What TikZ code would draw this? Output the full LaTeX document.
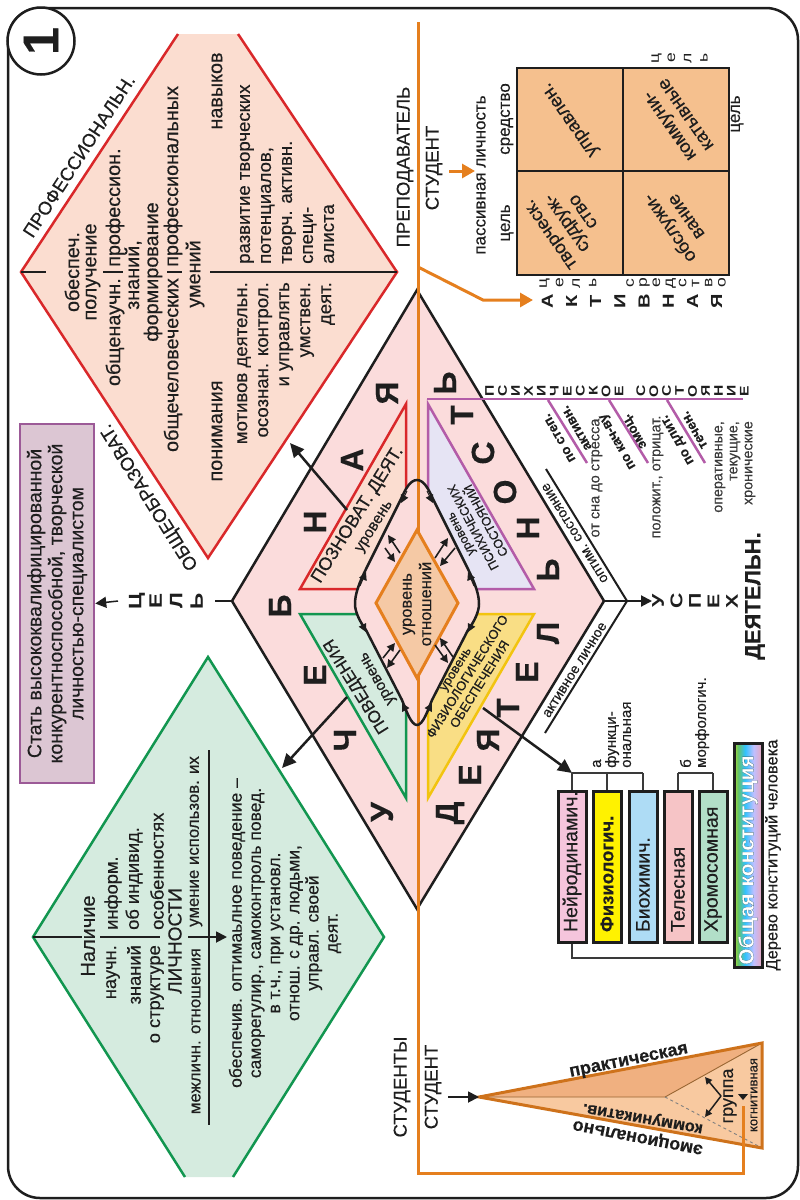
\documentclass[tikz,border=0pt]{standalone}
\usepackage{fontspec}
\setmainfont[RawFeature={embolden=0.35}]{Liberation Sans}
\newfontfamily\widefont[FakeStretch=1.25]{Liberation Sans}
\usetikzlibrary{arrows.meta,calc}
\newcommand\fz[2]{\fontsize{#1pt}{#2pt}\selectfont\lineskiplimit=-100pt\relax}
\definecolor{pinkd}{HTML}{FBDCDC}
\definecolor{redf}{HTML}{FBDDD0}
\definecolor{reds}{HTML}{D9282A}
\definecolor{greenf}{HTML}{D5EBDF}
\definecolor{greens}{HTML}{129650}
\definecolor{orangel}{HTML}{E57F1E}
\definecolor{quadf}{HTML}{F5C08E}
\definecolor{purples}{HTML}{B35CA8}
\definecolor{purplef}{HTML}{E6E4F4}
\definecolor{yellowf}{HTML}{F9DE85}
\definecolor{yellows}{HTML}{F2C40F}
\definecolor{ink}{HTML}{1E1E1E}
\definecolor{gray1}{HTML}{3A3A3A}
\definecolor{goalf}{HTML}{DCC6D3}
\definecolor{goals}{HTML}{9C5A97}
\definecolor{odiam}{HTML}{F5C9A5}
\definecolor{pyrl}{HTML}{F8C9A0}
\definecolor{pyrd}{HTML}{F0B080}
\pgfdeclarehorizontalshading{rainbowh}{100bp}{
  color(0bp)=(orange!90!red);color(8bp)=(orange);color(18bp)=(yellow);
  color(32bp)=(green!60!black!60);color(45bp)=(cyan!70!blue!80);color(60bp)=(blue!25!white);
  color(75bp)=(purple!35!white);color(100bp)=(purple!35!white)}
\tikzset{
  txt/.style={rotate=90,inner sep=0pt,text=ink},
  red20/.style={txt,font=\fz{19.8}{21}},
  red18/.style={txt,font=\fz{18.6}{21}},
  grn18/.style={txt,font=\fz{18.3}{19}},
  big/.style={txt,font=\fz{32}{32}\bfseries},
  hd/.style={txt,font=\fz{18.5}{20}},
  stack/.style={txt,align=center},
  blk/.style={draw=ink,line width=2.5pt},
  thin rule/.style={draw=ink,line width=1.8pt},
  barrow/.style={draw=ink,line width=2.5pt,-{Triangle[length=14pt,width=13pt]}},
  sarrow/.style={draw=ink,line width=1.5pt,-{Triangle[length=7pt,width=7pt]}},
  dbl/.style={draw=ink,line width=1.6pt,-{Triangle[length=8pt,width=8pt]}},
  cbox/.style={draw=ink,line width=3pt,rotate=90,minimum height=28pt,text width=131pt,inner xsep=10pt,inner ysep=0pt,align=left,font=\fz{19.5}{20},text=ink},
  brk/.style={draw=gray1,line width=1.4pt},
  gtxt/.style={txt,font=\fz{14.5}{15},text=gray1},
  qtxt/.style={inner sep=0pt,rotate=125,font=\fz{18.5}{20},text=ink,align=center},
  btxt/.style={inner sep=0pt,rotate=120,font=\fz{13.5}{20}\bfseries,text=ink,align=center},
  orule/.style={orangel,line width=3pt},
}
\begin{document}
\begin{tikzpicture}[x=1pt,y=-1pt]
\useasboundingbox (0,0) rectangle (800,1200);
% frame
\draw[ink,line width=2.5pt,rounded corners=32pt] (8,8) rectangle (798,1198);
\node[circle,draw=ink,line width=2.5pt,fill=white,minimum size=67pt,inner sep=0pt,rotate=90,font=\fz{50}{50}\bfseries,text=ink] (num) at (41,41) {1};

% red diamond
\coordinate (rl) at (21,272); \coordinate (rr) at (397,272); \coordinate (rb) at (208,558);
\coordinate (rt1) at (178,34); \coordinate (rt2) at (238,34);
\fill[redf] (rt1)--(rl)--(rb)--(rr)--(rt2)--cycle;
\draw[reds,line width=2.5pt,line join=miter] (rt1)--(rl)--(rb)--(rr)--(rt2);
\draw[thin rule] (rl)--(46,272) (103,272)--(123,272) (167,272)--(182,272) (210,272)--(rr);
\node[red20] (r1) at (72,272) {обеспеч.};
\node[red20] (r2) at (93,272) {получение};
\node[red20,anchor=east] (r3a) at (115,278) {общенаучн.};
\node[red20,anchor=west] (r3b) at (115,267) {профессион.};
\node[red20] (r4) at (133,275) {знаний,};
\node[red20] (r5) at (153,272) {формирование};
\node[red20,anchor=east] (r6a) at (173,278) {общечеловеческих};
\node[red20,anchor=west] (r6b) at (173,267) {профессиональных};
\node[red20] (r7) at (195,274) {умений};
\node[red20] (r8) at (217,91) {навыков};
\node[red20] (r9) at (217,431) {понимания};
\node[red18,anchor=west,align=left] (r10) at (287,264) {развитие творческих\\потенциалов,\\творч. активн.\\специ-\\алиста};
\node[red18,anchor=east,align=right] (r11) at (286,282) {мотивов деятельн.\\осознан. контрол.\\и управлять\\умствен.\\деят.};
\node[hd,rotate=-33,anchor=center] (prof) at (79,156) {ПРОФЕССИОНАЛЬН.};
\node[hd,rotate=32,anchor=center] (obsch) at (150,497) {ОБЩЕОБРАЗОВАТ.};

% green diamond
\coordinate (gl) at (33,937); \coordinate (gr) at (384,937); \coordinate (gt) at (208,657);
\coordinate (gb1) at (185,1177); \coordinate (gb2) at (233,1177);
\fill[greenf] (gt)--(gl)--(gb1)--(gb2)--(gr)--cycle;
\draw[greens,line width=2.5pt] (gb1)--(gl)--(gt)--(gr)--(gb2);
\draw[thin rule] (gl)--(82,937) (100,937)--(160,937);
\coordinate (gv1) at (209,750); \coordinate (gv2) at (209,1125);
\draw[thin rule] (gv1)--(gv2);
\coordinate (ga1) at (188,937); \coordinate (ga2) at (227,937);
\draw[draw=ink,line width=1.8pt,-{Triangle[length=11pt,width=11pt]}] (ga1)--(ga2);
\node[txt,font=\fz{20}{20}] (g1) at (88,936) {Наличие};
\node[grn18,anchor=east] (g2a) at (113,945) {научн.};
\node[grn18,anchor=west] (g2b) at (113,930) {информ.};
\node[grn18,anchor=east] (g3a) at (134,945) {знаний};
\node[grn18,anchor=west] (g3b) at (134,930) {об индивид.};
\node[grn18,anchor=east] (g4a) at (157,945) {о структуре};
\node[grn18,anchor=west] (g4b) at (157,930) {особенностях};
\node[txt,font=\fz{19}{20}] (g5) at (175,941) {ЛИЧНОСТИ};
\node[txt,font=\fz{16.8}{18},anchor=east] (g6a) at (196,948) {межличн. отношения};
\node[txt,font=\fz{16.8}{18},anchor=west] (g6b) at (196,927) {умение использов. их};
\node[txt,font=\fz{17.5}{19.2},align=center] (g7) at (285,933) {обеспечив. оптимаьлное поведение –\\саморегулир., самоконтроль повед.\\в т.ч., при установл.\\отнош. с др. людьми,\\управл. своей\\деят.};

% purple box
\node[rotate=90,draw=goals,line width=2.5pt,fill=goalf,minimum width=359pt,minimum height=74pt,align=center,text=ink,font=\fz{19.5}{21}] (goal) at (57,603.5) {Стать высококвалифицированной\\конкурентноспособной, творческой\\личностью-специалистом};

% central diamond
\coordinate (dt) at (417,290); \coordinate (dl) at (232,601); \coordinate (dr) at (604,601); \coordinate (db) at (417,909);
\fill[pinkd] (dt)--(dl)--(db)--(dr)--cycle;
% inner triangles
\filldraw[fill=redf,draw=reds,line width=2.5pt] (406,404)--(300,589)--(406,589)--cycle;
\filldraw[fill=purplef,draw=purples,line width=2.5pt] (428,404)--(534,589)--(428,589)--cycle;
\filldraw[fill=greenf,draw=greens,line width=2.5pt] (300,614)--(406,614)--(406,798)--cycle;
\filldraw[fill=yellowf,draw=yellows,line width=2.5pt] (534,614)--(428,614)--(428,798)--cycle;
\draw[ink,line width=2.5pt] (dt)--(dl)--(db)--(dr)--cycle;
% orange axis
\coordinate (ot) at (418,22); \coordinate (oc) at (418,1173); \coordinate (oe) at (743,1173); \coordinate (oe2) at (743,1106);
% rounded inner form
\path[fill=pinkd] (417,480) .. controls (410,480) and (405,490) .. (402,497) -- (367,567) .. controls (358,585) and (355,595) .. (355,604) .. controls (355,612) and (360,622) .. (366,630) -- (402,700) .. controls (406,710) and (411,725) .. (417,725) .. controls (423,725) and (428,710) .. (432,700) -- (468,630) .. controls (474,622) and (479,612) .. (479,604) .. controls (479,595) and (476,585) .. (467,567) -- (432,497) .. controls (429,490) and (424,480) .. (417,480) -- cycle;
\draw[orule,line join=miter] (ot)--(oc)--(oe)--(oe2);
\draw[ink,line width=2.5pt] (417,480) .. controls (410,480) and (405,490) .. (402,497) -- (367,567) .. controls (358,585) and (355,595) .. (355,604) .. controls (355,612) and (360,622) .. (366,630) -- (402,700) .. controls (406,710) and (411,725) .. (417,725) .. controls (423,725) and (428,710) .. (432,700) -- (468,630) .. controls (474,622) and (479,612) .. (479,604) .. controls (479,595) and (476,585) .. (467,567) -- (432,497) .. controls (429,490) and (424,480) .. (417,480) -- cycle;
\foreach \a/\b/\c/\d in {407/491/401/503,427/491/433/503,360/586/366/572,474/586/468/572,360/620/366/632,474/620/468/632,409/716/402/703,425/716/432/703}
  \draw[ink,-{Triangle[length=8pt,width=8pt]},line width=1pt] (\a,\b)--(\c,\d);
% orange diamond
\filldraw[fill=odiam,draw=orangel,line width=3pt,line join=miter] (417,530)--(376,603)--(417,678)--(458,603)--cycle;
\node[txt,font=\fz{16.5}{19.5},align=center] (rel) at (417,604) {уровень\\отношений};
% double arrows
\foreach \a/\b/\c/\d in {400/553/388/535,385/548/395/562,435/558/448/538,455/548/440/566,383/658/395/643,400/650/387/668,453/657/440/638,435/645/448/663}
  \draw[dbl] (\a,\b)--(\c,\d);
% labels in triangles
\node[inner sep=0pt,rotate=58,font=\fz{18}{20},text=ink] (t1) at (358,515) {ПОЗНОВАТ. ДЕЯТ.};
\node[inner sep=0pt,rotate=58,font=\fz{15.5}{18},text=ink] (t2) at (375,527) {уровень};
\node[inner sep=0pt,rotate=118,font=\fz{12.5}{14.5},text=ink,align=center] (t3) at (474,527) {уровень\\ПСИХИЧЕСКИХ\\СОСТОЯНИЙ};
\node[inner sep=0pt,rotate=122,font=\fz{17}{20},text=ink] (t4) at (357,686) {ПОВЕДЕНИЯ};
\node[inner sep=0pt,rotate=120,font=\fz{15.5}{18},text=ink] (t5) at (378,678) {уровень};
\node[inner sep=0pt,rotate=58,font=\fz{13}{14.5},text=ink,align=center] (t6) at (468,677) {уровень\\ФИЗИОЛОГИЧЕСКОГО\\ОБЕСПЕЧЕНИЯ};
% big letters
\foreach \i/\x/\y/\l in {1/382/812/У,2/345/740/Ч,3/315/675/Е,4/280/606/Б,5/315/522/Н,6/352/460/А,7/387/393/Я,
  8/450/813/Д,9/470/775/Е,10/488/740/Я,11/508/708/Т,12/527/672/Е,13/548/633/Л,14/548/570/Ь,15/528/528/Н,16/505/492/О,17/483/453/С,18/462/415/Т,19/445/383/Ь}
  \node[big] (L\i) at (\x,\y) {\l};
% edge rules
\coordinate (e1) at (546,469); \coordinate (e2) at (627,601); \coordinate (e3) at (545,733);
\draw[ink,line width=2pt] (e1)--(e2)--(e3);
\node[inner sep=0pt,rotate=122,font=\fz{14}{15},text=ink] (opt) at (575,533) {оптим. состояние};
\node[inner sep=0pt,rotate=58,font=\fz{14}{15},text=ink] (act) at (575,670) {активное личное};
% success arrow
\coordinate (su) at (652,601);
\draw[ink,line width=2pt,-{Triangle[length=11pt,width=11pt]}] (dr)--(su);
\node[stack,font=\widefont\fz{17}{18.5}\bfseries] (usp) at (695,601) {У\\С\\П\\Е\\Х};
\node[txt,font=\fz{22}{24}\bfseries] (deyat) at (755,596) {ДЕЯТЕЛЬН.};
% goal arrow
\node[stack,font=\widefont\fz{18}{20.5}\bfseries] (tsel) at (166,601) {Ц\\Е\\Л\\Ь};
\draw[ink,line width=1.6pt] (dl)--(215,601);
\coordinate (g0) at (118,601);
\draw[sarrow,-{Triangle[length=11pt,width=11pt]}] (g0)--(goal.south);
% arrows to diamonds
\coordinate (a1) at (347,510); \coordinate (a1t) at (290,443);
\coordinate (a2) at (347,697); \coordinate (a2t) at (282,768);
\coordinate (a3) at (483,708); \coordinate (a3t) at (572,773);
\draw[barrow] (a1)--(a1t);
\draw[barrow] (a2)--(a2t);
\draw[barrow] (a3)--(a3t);
% teacher quadrant
\node[hd] (prep) at (405,167) {ПРЕПОДАВАТЕЛЬ};
\node[hd] (stud1) at (434,168) {СТУДЕНТ};
\node[txt,font=\fz{17}{19}] (pass) at (481,175) {пассивная личность};
\node[txt,font=\fz{17}{19}] (sr1) at (507,119) {средство};
\node[txt,font=\fz{17}{19}] (ts1) at (507,223) {цель};
\node[txt,font=\fz{17}{19}] (ts2) at (737,114) {цель};
\coordinate (s1) at (449,171); \coordinate (s2) at (475,171);
\draw[orule,-{Triangle[length=13pt,width=14pt]}] (s1)--(s2);
\coordinate (br0) at (418,267); \coordinate (br1) at (483,300); \coordinate (br2) at (533,300);
\draw[orule,-{Triangle[length=13pt,width=14pt]}] (br0)--(br1)--(br2);
\draw[fill=quadf,draw=ink,line width=2.5pt] (517,68) rectangle (729,275);
\draw[ink,line width=2.5pt] (623,68)--(623,275) (517,171)--(729,171);
\node[qtxt] (q1) at (571,119) {управлен.};
\node[qtxt] (q2) at (678,120) {коммуни-\\катывные};
\node[qtxt] (q3) at (567,223) {творческ.\\судруж-\\ство};
\node[qtxt] (q4) at (677,223) {обслужи-\\вание};
\node[stack,font=\widefont\fz{14}{16.3}] (st1) at (679.5,58) {ц\\е\\л\\ь};
\node[stack,font=\widefont\fz{14}{16.5}] (st2) at (568,283) {ц\\е\\л\\ь};
\node[stack,font=\widefont\fz{14}{13.1}] (st3) at (676,283) {с\\р\\е\\д\\с\\т\\в\\о};
\node[stack,font=\widefont\fz{16}{24.2}\bfseries] (act2) at (632,301) {А\\К\\Т\\И\\В\\Н\\А\\Я};
% mental state line
\coordinate (p1) at (427,399); \coordinate (p2) at (743,399);
\draw[purples,line width=2.5pt] (p1)--(p2);
\node[stack,font=\widefont\fz{12.5}{12.95}\bfseries] (psy) at (617,391) {П\\С\\И\\Х\\И\\Ч\\Е\\С\\К\\О\\Е\\[8.7pt]С\\О\\С\\Т\\О\\Я\\Н\\И\\Е};
\draw[purples,line width=2.5pt] (548,400)--(587,463) (609,400)--(648,463) (667,400)--(705,463);
\node[btxt] (b1) at (568,433) {по степ.\\активн.};
\node[btxt] (b2) at (627,436) {по кач-ву\\эмоц.};
\node[btxt] (b3) at (686,435) {по длит.\\течен.};
\node[gtxt] (v1) at (597,478) {от сна до стресса};
\node[gtxt] (v2) at (658,477) {положит., отрицат.};
\node[gtxt,anchor=east,align=right,font=\fz{14.3}{15}] (v3) at (735,421) {оперативные,\\текущие,\\хронические};
% constitution boxes
\node[cbox,fill={rgb,255:red,245;green,197;blue,220}] (n1) at (572,866.5) {Нейродинамич.};
\node[cbox,fill=yellow,font=\fz{18.5}{20}\bfseries] (n2) at (607,866.5) {Физиологич.};
\node[cbox,fill={rgb,255:red,174;green,220;blue,245}] (n3) at (643,866.5) {Биохимич.};
\node[cbox,fill={rgb,255:red,246;green,196;blue,198}] (n4) at (678,866.5) {Телесная};
\node[cbox,fill={rgb,255:red,178;green,223;blue,200}] (n5) at (713,866.5) {Хромосомная};
\path[shading=rainbowh,draw=ink,line width=3pt] (734,743) rectangle (762,967);
\node[rotate=90,inner sep=0pt,font=\fz{21}{22}\bfseries,text=white,text width=212pt,align=center] (n6) at (748,860) {\special{pdf:code q 2 Tr 0.7 w 0.05 0.25 0.25 RG}Общая конституция\special{pdf:code Q}};
\coordinate (ab) at (572,773); \coordinate (ae) at (643,773); \coordinate (am) at (607,773);
\draw[brk] (ab)--(ae) (ab)--(n1.east) (am)--(n2.east) (ae)--(n3.east);
\coordinate (bb) at (678,773); \coordinate (be) at (713,773);
\draw[brk] (bb)--(be) (bb)--(n4.east) (be)--(n5.east);
\coordinate (cb) at (572,958);
\draw[brk] (n1.west)--(cb)--(734,958);
\node[txt,anchor=west,align=left,font=\fz{15}{15}] (fn) at (612,768) {а\\функци-\\ональная};
\node[txt,anchor=west,align=left,font=\fz{15}{15}] (mo) at (694.5,768) {б\\морфологич.};
\node[txt,font=\fz{16.5}{17}] (tree) at (773,855) {Дерево конституций человека};
% pyramid
\coordinate (ap) at (479,1097); \coordinate (tr) at (762,1043); \coordinate (brr) at (762,1148); \coordinate (in) at (665,1097);
\fill[pyrl] (ap)--(tr)--(brr)--cycle;
\fill[pyrd] (ap)--(tr)--(in)--cycle;
\draw[brown!80!black,line width=.9pt] (ap)--(in)--(tr);
\draw[gray,line width=.9pt,dashed] (in)--(brr);
\draw[orangel!90!black,line width=3pt,line join=miter] (ap)--(tr)--(brr)--cycle;
\coordinate (yy) at (721,1096);
\draw[sarrow] (yy)--(705,1077);
\draw[sarrow] (yy)--(705,1117);
\fill[ink] (738,1094)--(748,1094)--(743,1100)--cycle;
\draw[orule] (oe)--(oe2);
\node[inner sep=0pt,rotate=11.5,font=\fz{18}{20}\bfseries,text=ink] (pr) at (629,1062) {практическая};
\node[inner sep=0pt,rotate=170,font=\fz{16.5}{20}\bfseries,text=ink] (ko) at (643,1117) {коммуникатив.};
\node[inner sep=0pt,rotate=169,font=\fz{18}{20}\bfseries,text=ink] (em) at (638,1136) {эмоционально};
\node[txt,font=\fz{18}{20}] (gr1) at (730,1096) {группа};
\node[txt,font=\fz{13}{15}] (kg) at (754,1095) {когнитивная};
\node[hd] (sty) at (402,1087) {СТУДЕНТЫ};
\node[hd] (st5) at (433,1087) {СТУДЕНТ};
\coordinate (sa) at (448,1097);
\draw[draw=ink,line width=1.8pt,-{Triangle[length=11pt,width=11pt]}] (sa)--(ap);
\end{tikzpicture}
\end{document}
